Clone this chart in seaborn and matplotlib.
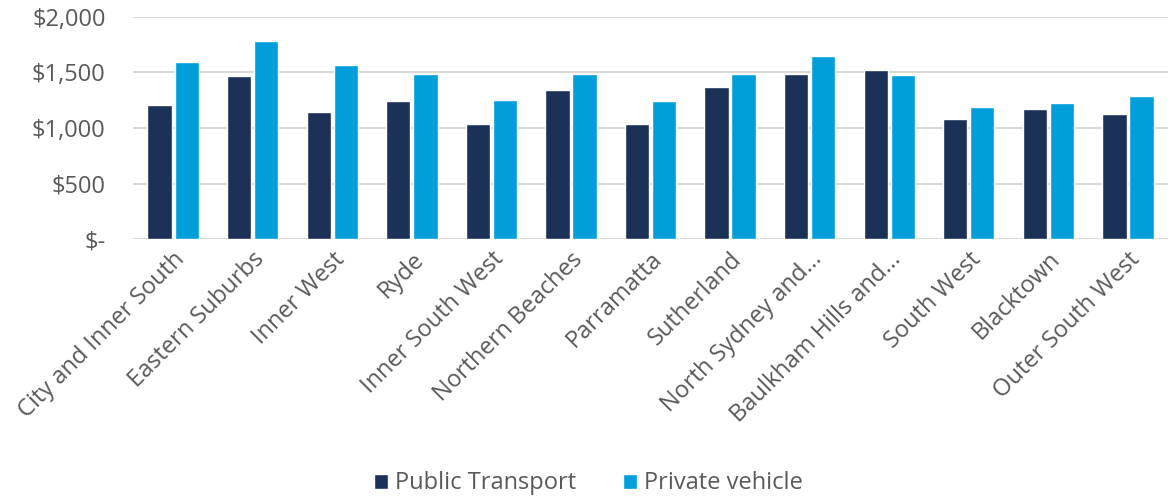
import pandas as pd
import matplotlib
matplotlib.use("Agg")
import matplotlib.pyplot as plt
import seaborn as sns
from matplotlib.ticker import FuncFormatter

regions = ["City and Inner South", "Eastern Suburbs", "Inner West", "Ryde",
           "Inner South West", "Northern Beaches", "Parramatta", "Sutherland",
           "North Sydney and...", "Baulkham Hills and...", "South West",
           "Blacktown", "Outer South West"]
public_transport = [1205, 1470, 1145, 1240, 1033, 1346, 1033, 1370, 1483, 1521, 1078, 1172, 1127]
private_vehicle = [1590, 1786, 1566, 1482, 1256, 1482, 1240, 1482, 1647, 1473, 1193, 1229, 1289]
series = ["Public Transport", "Private vehicle"]

df = pd.DataFrame({
    "region": regions * 2,
    "mode": [series[0]] * len(regions) + [series[1]] * len(regions),
    "cost": public_transport + private_vehicle,
})

sns.set_style("white")
plt.rcParams["font.family"] = ["Open Sans", "DejaVu Sans"]
text_grey = "#595959"

fig = plt.figure(figsize=(11.7, 4.99), dpi=100)
ax = fig.add_axes([0.114, 0.521, 0.884, 0.445])

sns.barplot(data=df, x="region", y="cost", hue="mode", order=regions,
            hue_order=series, palette=["#1B3158", "#009FDB"],
            width=0.68, gap=0.1, saturation=1, ax=ax)

ax.set_ylim(0, 2000)
ax.set_yticks([0, 500, 1000, 1500, 2000])
ax.yaxis.set_major_formatter(FuncFormatter(lambda v, p: "$-" if v == 0 else f"${v:,.0f}"))
ax.yaxis.grid(True, color="#D9D9D9", linewidth=1.5)
ax.set_axisbelow(True)
for s in ax.spines.values():
    s.set_visible(False)
ax.set_xlabel("")
ax.set_ylabel("")
ax.tick_params(axis="both", length=0, labelsize=17, colors=text_grey)
ax.tick_params(axis="y", pad=20)
ax.tick_params(axis="x", pad=6)
plt.setp(ax.get_xticklabels(), rotation=45, ha="right", rotation_mode="anchor")

ax.legend(loc="lower center", bbox_to_anchor=(0.44, -1.25), ncol=2, frameon=False,
          fontsize=17, labelcolor=text_grey, handlelength=0.6, handleheight=0.6,
          handletextpad=0.3, columnspacing=2.0)

fig.savefig("out.png", dpi=100)
